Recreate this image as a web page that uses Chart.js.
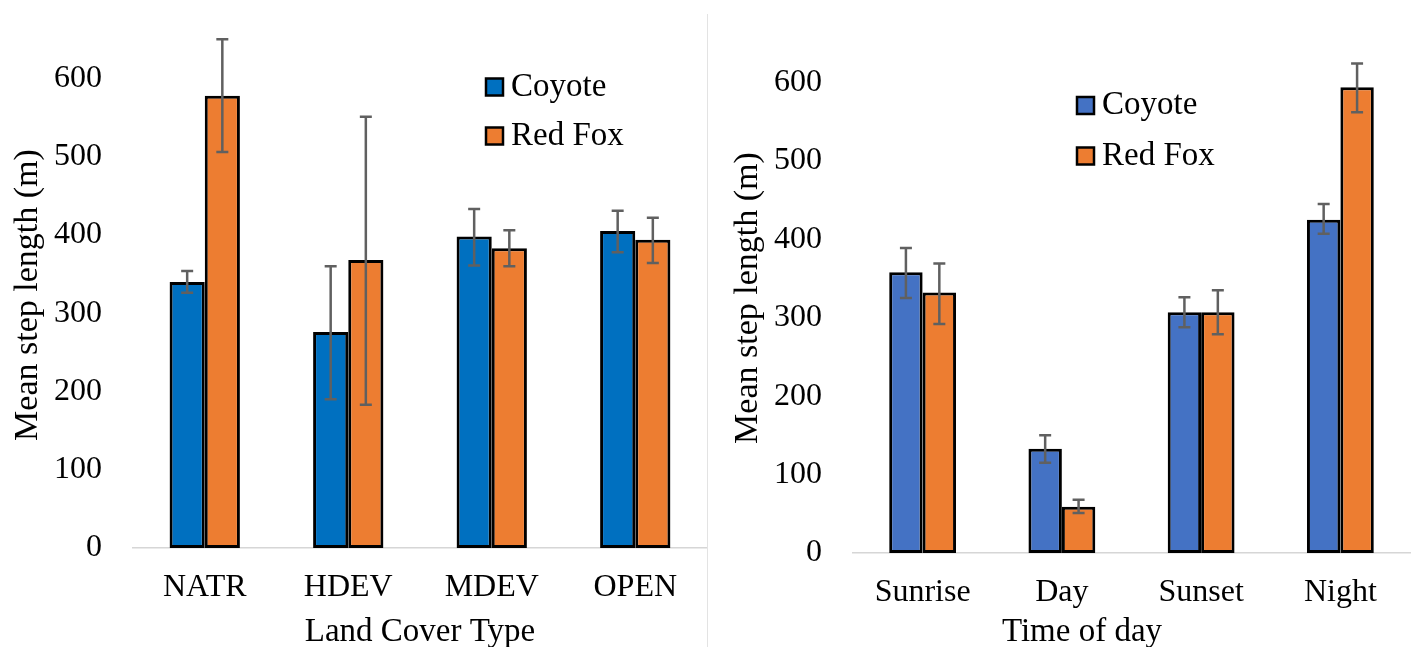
<!DOCTYPE html>
<html>
<head>
<meta charset="utf-8">
<script src="https://cdn.jsdelivr.net/npm/chart.js@4.4.1/dist/chart.umd.min.js"></script>
<style>
  html, body { margin:0; padding:0; background:#fff; }
  body { width:1413px; height:647px; position:relative; overflow:hidden; }
  #w1 { position:absolute; left:0; top:0; width:707px; height:647px; }
  #w2 { position:absolute; left:707px; top:0; width:706px; height:647px; }
  #sep { position:absolute; left:707px; top:14px; width:1px; height:633px; background:#e3e3e3; }
</style>
</head>
<body>
<div id="w1"><canvas id="c1" width="707" height="647"></canvas></div>
<div id="w2"><canvas id="c2" width="706" height="647"></canvas></div>
<div id="sep"></div>
<script>
// ---- Data: Land cover chart ----
const landCategories = ['NATR', 'HDEV', 'MDEV', 'OPEN'];
const coyoteLand     = [340, 276, 398, 405];
const coyoteLandLow  = [326, 190, 361, 378];
const coyoteLandHigh = [354, 360, 433, 431];
const foxLand        = [578, 368, 383, 394];
const foxLandLow     = [506, 183, 360, 364];
const foxLandHigh    = [650, 551, 406, 422];

// ---- Data: Time of day chart ----
const timeCategories = ['Sunrise', 'Day', 'Sunset', 'Night'];
const coyoteTime     = [358, 133, 307, 425];
const coyoteTimeLow  = [325, 115, 288, 407];
const coyoteTimeHigh = [389, 150, 326, 445];
const foxTime        = [332, 59, 307, 594];
const foxTimeLow     = [292, 51, 279, 562];
const foxTimeHigh    = [369, 68, 335, 624];

// ---- Axis ticks ----
const yTickValues = [0, 100, 200, 300, 400, 500, 600];
const yMax = 700;

const FONT = '"Liberation Serif", "Times New Roman", serif';

const errorBarPlugin = {
  id: 'errorBars',
  afterDatasetsDraw(chart) {
    const ctx = chart.ctx;
    const y = chart.scales.y;
    ctx.save();
    ctx.strokeStyle = '#606060';
    ctx.lineWidth = 2.5;
    chart.data.datasets.forEach((ds, i) => {
      const meta = chart.getDatasetMeta(i);
      meta.data.forEach((bar, j) => {
        const lo = y.getPixelForValue(ds.errLow[j]);
        const hi = y.getPixelForValue(ds.errHigh[j]);
        const x = bar.x;
        ctx.beginPath();
        ctx.moveTo(x, lo); ctx.lineTo(x, hi);
        ctx.moveTo(x - 6, lo); ctx.lineTo(x + 6, lo);
        ctx.moveTo(x - 6, hi); ctx.lineTo(x + 6, hi);
        ctx.stroke();
      });
    });
    ctx.restore();
  }
};

const decorPlugin = {
  id: 'decor',
  afterDraw(chart, args, opts) {
    const ctx = chart.ctx;
    ctx.save();
    ctx.fillStyle = '#000';
    ctx.font = '33px ' + FONT;
    ctx.textBaseline = 'middle';
    // legend
    chart.data.datasets.forEach((ds, i) => {
      const cy = opts.legendY + i * opts.legendGap;
      const s = 17;
      ctx.fillStyle = ds.backgroundColor;
      ctx.fillRect(opts.legendX, cy - s / 2, s, s);
      ctx.strokeStyle = '#000';
      ctx.lineWidth = 2.5;
      ctx.strokeRect(opts.legendX, cy - s / 2, s, s);
      ctx.fillStyle = '#000';
      ctx.textAlign = 'left';
      ctx.fillText(ds.label, opts.legendX + s + 8, cy);
    });
    // axis titles
    ctx.textAlign = 'center';
    ctx.fillText(opts.xTitle, opts.xTitleX, opts.xTitleY);
    ctx.font = '34px ' + FONT;
    ctx.translate(opts.yTitleX, opts.yTitleY);
    ctx.rotate(-Math.PI / 2);
    ctx.fillText(opts.yTitle, 0, 0);
    ctx.restore();
  }
};

function makeChart(canvasId, cats, d1, d1lo, d1hi, d2, d2lo, d2hi, c1, c2, cfg) {
  return new Chart(document.getElementById(canvasId), {
    type: 'bar',
    data: {
      labels: cats,
      datasets: [
        { label: 'Coyote', data: d1, errLow: d1lo, errHigh: d1hi, backgroundColor: c1,
          borderColor: '#000', borderWidth: 3, borderSkipped: false },
        { label: 'Red Fox', data: d2, errLow: d2lo, errHigh: d2hi, backgroundColor: c2,
          borderColor: '#000', borderWidth: 3, borderSkipped: false }
      ]
    },
    options: {
      responsive: false,
      animation: false,
      devicePixelRatio: 1,
      layout: { padding: cfg.padding },
      categoryPercentage: cfg.catPct,
      barPercentage: 1.0,
      plugins: {
        legend: { display: false },
        tooltip: { enabled: false },
        decor: cfg.decor
      },
      scales: {
        x: {
          grid: { display: false, drawTicks: false },
          border: { display: true, color: '#d6d6d6', width: 1.5 },
          ticks: { font: { family: FONT, size: 32 }, color: '#000', padding: 20 },
          afterFit(s) { s.height = cfg.xHeight; }
        },
        y: {
          min: 0, max: yMax,
          grid: { display: false, drawTicks: true, tickLength: 31, tickColor: 'rgba(0,0,0,0)' },
          border: { display: false },
          afterBuildTicks(s) { s.ticks = yTickValues.map(v => ({ value: v })); },
          ticks: { font: { family: FONT, size: 32, lineHeight: 0.01 }, color: '#000', padding: 0, autoSkip: false },
          afterFit(s) { s.width = cfg.yWidth; }
        }
      }
    },
    plugins: [errorBarPlugin, decorPlugin]
  });
}

makeChart('c1', landCategories, coyoteLand, coyoteLandLow, coyoteLandHigh,
  foxLand, foxLandLow, foxLandHigh, '#0070C0', '#ED7D31', {
    padding: { top: 0, right: 0, left: 0, bottom: 0 },
    catPct: 0.49, xHeight: 99, yWidth: 133,
    decor: { legendX: 486, legendY: 87, legendGap: 49,
      xTitle: 'Land Cover Type', xTitleX: 420, xTitleY: 632,
      yTitle: 'Mean step length (m)', yTitleX: 28, yTitleY: 295 }
  });

makeChart('c2', timeCategories, coyoteTime, coyoteTimeLow, coyoteTimeHigh,
  foxTime, foxTimeLow, foxTimeHigh, '#4472C4', '#ED7D31', {
    padding: { top: 4, right: 3, left: 0, bottom: 0 },
    catPct: 0.48, xHeight: 94, yWidth: 146,
    decor: { legendX: 370, legendY: 105.5, legendGap: 50.5,
      xTitle: 'Time of day', xTitleX: 375, xTitleY: 632,
      yTitle: 'Mean step length (m)', yTitleX: 41, yTitleY: 298 }
  });
</script>
</body>
</html>
